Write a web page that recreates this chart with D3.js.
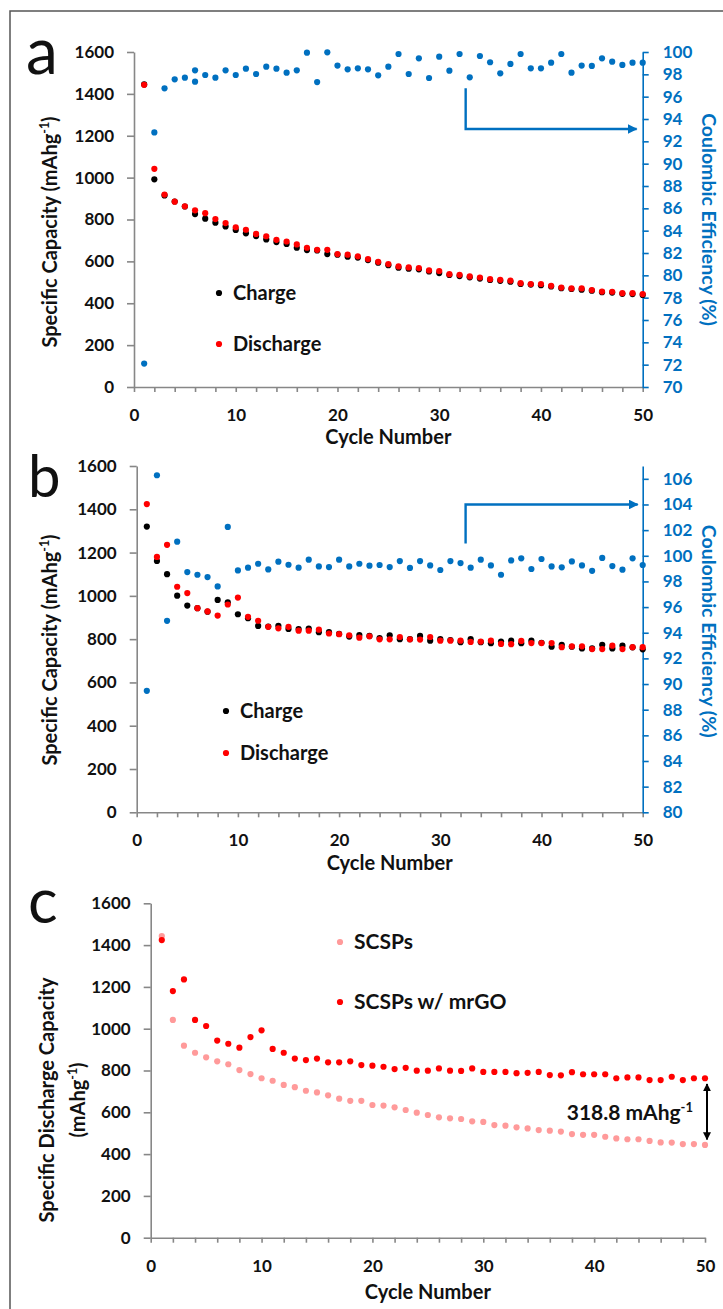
<html>
<head>
<script src="https://d3js.org/d3.v7.min.js"></script>
<style>
body { margin: 0; background: #fff; font-family: Lato, 'Open Sans', sans-serif; }
svg text { font-family: Lato, 'Open Sans', sans-serif; }
</style>
</head>
<body>
<div id="fig"></div>
<script>
  // cycle numbers 1..50
  var cycles = d3.range(1, 51);

  // panel a - capacity (mAh/g)
  var chargeA = [1445, 992, 915, 886, 862, 826, 804, 785, 767, 750, 734, 721, 705, 692, 683, 665, 654, 652, 635, 632,
    622, 618, 606, 594, 582, 570, 565, 562, 552, 544, 535, 530, 524, 518, 511, 507, 503, 492, 489, 486,
    480, 472, 468, 465, 460, 453, 451, 445, 444, 440];
  var dischargeA = [1443, 1042, 919, 885, 863, 844, 830, 802, 783, 763, 751, 731, 720, 703, 695, 681, 665, 655, 655, 635,
    632, 624, 611, 598, 587, 576, 571, 568, 557, 554, 539, 536, 528, 523, 515, 512, 508, 496, 492, 492,
    483, 475, 471, 471, 463, 456, 455, 448, 448, 444];
  // panel a - coulombic efficiency (%), cycle 6 shows two points
  var ceCyclesA = [1, 2, 3, 4, 5, 6, 6, 7, 8, 9, 10, 11, 12, 13, 14, 15, 16, 17, 18, 19, 20, 21, 22, 23, 24, 25,
    26, 27, 28, 29, 30, 31, 32, 33, 34, 35, 36, 37, 38, 39, 40, 41, 42, 43, 44, 45, 46, 47, 48, 49, 50];
  var ceA = [72.1, 92.8, 96.75, 97.55, 97.7, 98.36, 97.34, 97.94, 97.7, 98.36, 97.94, 98.51, 98.03, 98.69, 98.51, 98.15,
    98.36, 99.94, 97.31, 99.97, 98.78, 98.45, 98.54, 98.45, 97.91, 98.69, 99.82, 98.03, 99.43, 97.67, 99.58, 98.33,
    99.82, 97.73, 99.64, 99.08, 98.09, 98.93, 99.82, 98.54, 98.54, 99.04, 99.82, 98.15, 98.78, 98.75, 99.43, 99.13,
    98.84, 99.04, 99.04];

  // panel b
  var chargeB = [1320, 1161, 1100, 1001, 955, 943, 927, 981, 970, 915, 897, 861, 858, 862, 847, 847, 849, 832, 832, 824,
    812, 819, 815, 805, 818, 800, 800, 815, 793, 800, 796, 786, 800, 786, 781, 789, 793, 781, 793, 783,
    765, 774, 765, 757, 757, 774, 757, 770, 762, 753];
  var dischargeB = [1424, 1180, 1236, 1042, 1013, 943, 928, 909, 960, 992, 903, 885, 857, 850, 857, 839, 839, 844, 826, 823,
    818, 807, 813, 799, 799, 810, 799, 798, 810, 793, 793, 793, 787, 789, 793, 778, 777, 792, 782, 782,
    782, 763, 767, 767, 754, 754, 770, 754, 763, 763];
  var ceB = [89.47, 106.28, 94.93, 101.1, 98.73, 98.52, 98.34, 97.61, 102.25, 98.86, 99.07, 99.38, 98.94, 99.54, 99.3,
    99.07, 99.7, 99.17, 99.12, 99.7, 99.17, 99.38, 99.23, 99.28, 99.12, 99.59, 99.05, 99.59, 99.25, 98.89, 99.59,
    99.43, 99.07, 99.7, 99.25, 98.52, 99.64, 99.8, 98.97, 99.75, 99.17, 99.1, 99.56, 99.25, 98.83, 99.83, 99.2,
    98.92, 99.8, 99.28];

  // panel c reuses the discharge curves: SCSPs = a, SCSPs w/ mrGO = b
  var capTicks = [0, 200, 400, 600, 800, 1000, 1200, 1400, 1600];
  var cycleTicks = d3.range(0, 51, 2);

  var blue = "#0070c0", red = "#ff0000", pink = "#ff9a9a", grey = "#878787";

  var svg = d3.select("#fig").append("svg").attr("width", 723).attr("height", 1309);

  // outer frame (only left and top visible)
  svg.append("path").attr("d", "M10,1309V11H723").attr("fill", "none")
    .attr("stroke", "#555").attr("stroke-width", 1.5);

  var defs = svg.append("defs");
  function marker(id, color) {
    defs.append("marker").attr("id", id).attr("viewBox", "0 0 10 10").attr("refX", 9).attr("refY", 5)
      .attr("markerWidth", 4).attr("markerHeight", 4).attr("orient", "auto-start-reverse")
      .append("path").attr("d", "M0,0L10,5L0,10z").attr("fill", color);
  }
  marker("arrBlue", blue);
  marker("arrBlack", "#000");

  function capLabel(sel, size) {
    sel.append("tspan").text("(mAhg");
    sel.append("tspan").text("-1").attr("font-size", size * 0.62).attr("dy", -size * 0.38);
    sel.append("tspan").text(")").attr("dy", size * 0.38);
  }

  function plotPanel(o) {
    var x = d3.scaleLinear().domain([0, 50]).range([o.left, o.right]);
    var y = d3.scaleLinear().domain([0, 1600]).range([o.bottom, o.top]);
    var g = svg.append("g");

    var ax = g.append("g").attr("transform", "translate(0," + o.bottom + ")")
      .call(d3.axisBottom(x).tickValues(cycleTicks).tickSize(5).tickSizeOuter(0).tickPadding(17)
        .tickFormat(function(d) { return d % 10 === 0 ? d : ""; }));
    var ay = g.append("g").attr("transform", "translate(" + o.left + ",0)")
      .call(d3.axisLeft(y).tickValues(capTicks).tickSize(7).tickSizeOuter(0).tickPadding(13)
        .tickFormat(function(d) { return d; }));
    [ax, ay].forEach(function(a) {
      a.selectAll("path,line").attr("stroke", grey).attr("stroke-width", 1.6);
      a.selectAll("text").attr("font-size", 17).attr("font-weight", "bold").attr("fill", "#111");
    });

    if (o.ce) {
      var yr = d3.scaleLinear().domain(o.ceDomain).range([o.bottom, o.top]);
      var ar = g.append("g").attr("transform", "translate(" + o.right + ",0)")
        .call(d3.axisRight(yr).tickValues(o.ceTicks).tickSize(6).tickSizeOuter(0).tickPadding(14));
      ar.selectAll("path,line").attr("stroke", blue).attr("stroke-width", 1.6);
      ar.selectAll("text").attr("font-size", 17).attr("font-weight", "bold").attr("fill", blue);

      g.selectAll(".ce").data(o.ce).enter().append("circle")
        .attr("cx", function(d, i) { return x(o.ceCycles[i]); })
        .attr("cy", function(d) { return yr(d); })
        .attr("r", 3.1).attr("fill", blue);

      // guide arrow pointing at the right axis
      var a = o.arrow;
      g.append("path")
        .attr("d", "M" + x(a[0]) + "," + yr(a[1]) + "V" + yr(a[2]) + "H" + x(a[3]))
        .attr("fill", "none").attr("stroke", blue).attr("stroke-width", 2.4)
        .attr("marker-end", "url(#arrBlue)");

      g.append("text").attr("transform", "translate(" + 702 + "," + ((o.top + o.bottom) / 2 + o.rOff) + ") rotate(90)")
        .attr("text-anchor", "middle").attr("font-size", 19.5).attr("font-weight", "bold").attr("fill", blue)
        .text("Coulombic Efficiency (%)");
    }

    o.series.forEach(function(s) {
      g.selectAll(null).data(s.values).enter().append("circle")
        .attr("cx", function(d, i) { return x(cycles[i]); })
        .attr("cy", function(d) { return y(d); })
        .attr("r", 3.1).attr("fill", s.color);
    });

    // legend
    o.series.forEach(function(s, i) {
      if (!s.name) return;
      var ly = o.legY + i * o.legGap;
      g.append("circle").attr("cx", o.legX).attr("cy", ly).attr("r", 3.1).attr("fill", s.color);
      g.append("text").attr("x", o.legX + 14).attr("y", ly + 7).attr("font-size", o.legSize)
        .attr("font-weight", "bold").attr("fill", "#111").text(s.name);
    });

    g.append("text").attr("x", (o.left + o.right) / 2).attr("y", o.bottom + o.xTitleOff)
      .attr("text-anchor", "middle").attr("font-size", 20).attr("font-weight", "bold").attr("fill", "#111")
      .text("Cycle Number");

    g.append("text").attr("x", o.letterX).attr("y", o.letterY).attr("font-size", o.letterSize)
      .attr("fill", "#111").text(o.letter);

    return { x: x, y: y, g: g };
  }

  // panel a
  var pa = plotPanel({
    left: 134, right: 642.7, top: 52, bottom: 387,
    series: [{ name: "Charge", values: chargeA, color: "#000" }, { name: "Discharge", values: dischargeA, color: red }],
    ce: ceA, ceCycles: ceCyclesA, ceDomain: [70, 100], ceTicks: d3.range(70, 101, 2),
    arrow: [32.6, 96.75, 93.1, 49.4], rOff: 0,
    legX: 219, legY: 293, legGap: 51, legSize: 20,
    xTitleOff: 57, letter: "a", letterX: 26, letterY: 74, letterSize: 64
  });
  var ta = pa.g.append("text").attr("transform", "translate(57,232) rotate(-90)").attr("text-anchor", "middle")
    .attr("font-size", 20).attr("font-weight", "bold").attr("fill", "#111");
  ta.append("tspan").text("Specific Capacity ");
  capLabel(ta, 20);

  // panel b
  var pb = plotPanel({
    left: 136.7, right: 642.7, top: 466, bottom: 812.3,
    series: [{ name: "Charge", values: chargeB, color: "#000" }, { name: "Discharge", values: dischargeB, color: red }],
    ce: ceB, ceCycles: cycles, ceDomain: [80, 107], ceTicks: d3.range(80, 107, 2),
    arrow: [32.5, 100.95, 104, 49.5], rOff: -8,
    legX: 226, legY: 711, legGap: 42, legSize: 20,
    xTitleOff: 58, letter: "b", letterX: 28, letterY: 497, letterSize: 58
  });
  var tb = pb.g.append("text").attr("transform", "translate(57,650) rotate(-90)").attr("text-anchor", "middle")
    .attr("font-size", 20).attr("font-weight", "bold").attr("fill", "#111");
  tb.append("tspan").text("Specific Capacity ");
  capLabel(tb, 20);

  // panel c
  var pc = plotPanel({
    left: 150.7, right: 705, top: 903.3, bottom: 1237.7,
    series: [{ name: "SCSPs", values: dischargeA, color: pink }, { name: "SCSPs w/ mrGO", values: dischargeB, color: red }],
    legX: 340, legY: 942, legGap: 60, legSize: 21,
    xTitleOff: 61, letter: "c", letterX: 28, letterY: 923, letterSize: 62
  });
  pc.g.append("text").attr("transform", "translate(54,1100) rotate(-90)").attr("text-anchor", "middle")
    .attr("font-size", 20).attr("font-weight", "bold").attr("fill", "#111").text("Specific Discharge Capacity");
  var tc = pc.g.append("text").attr("transform", "translate(85,1100) rotate(-90)").attr("text-anchor", "middle")
    .attr("font-size", 20).attr("font-weight", "bold").attr("fill", "#111");
  capLabel(tc, 20);

  // capacity gap annotation at cycle 50
  pc.g.append("path")
    .attr("d", "M" + (pc.x(50) + 2) + "," + pc.y(735) + "V" + pc.y(470))
    .attr("stroke", "#000").attr("stroke-width", 2).attr("fill", "none")
    .attr("marker-start", "url(#arrBlack)").attr("marker-end", "url(#arrBlack)");
  var ann = pc.g.append("text").attr("x", 693).attr("y", pc.y(600) + 8).attr("text-anchor", "end")
    .attr("font-size", 21).attr("font-weight", "bold").attr("fill", "#111");
  ann.append("tspan").text("318.8 mAhg");
  ann.append("tspan").text("-1").attr("font-size", 13).attr("dy", -8);
</script>
</body>
</html>
